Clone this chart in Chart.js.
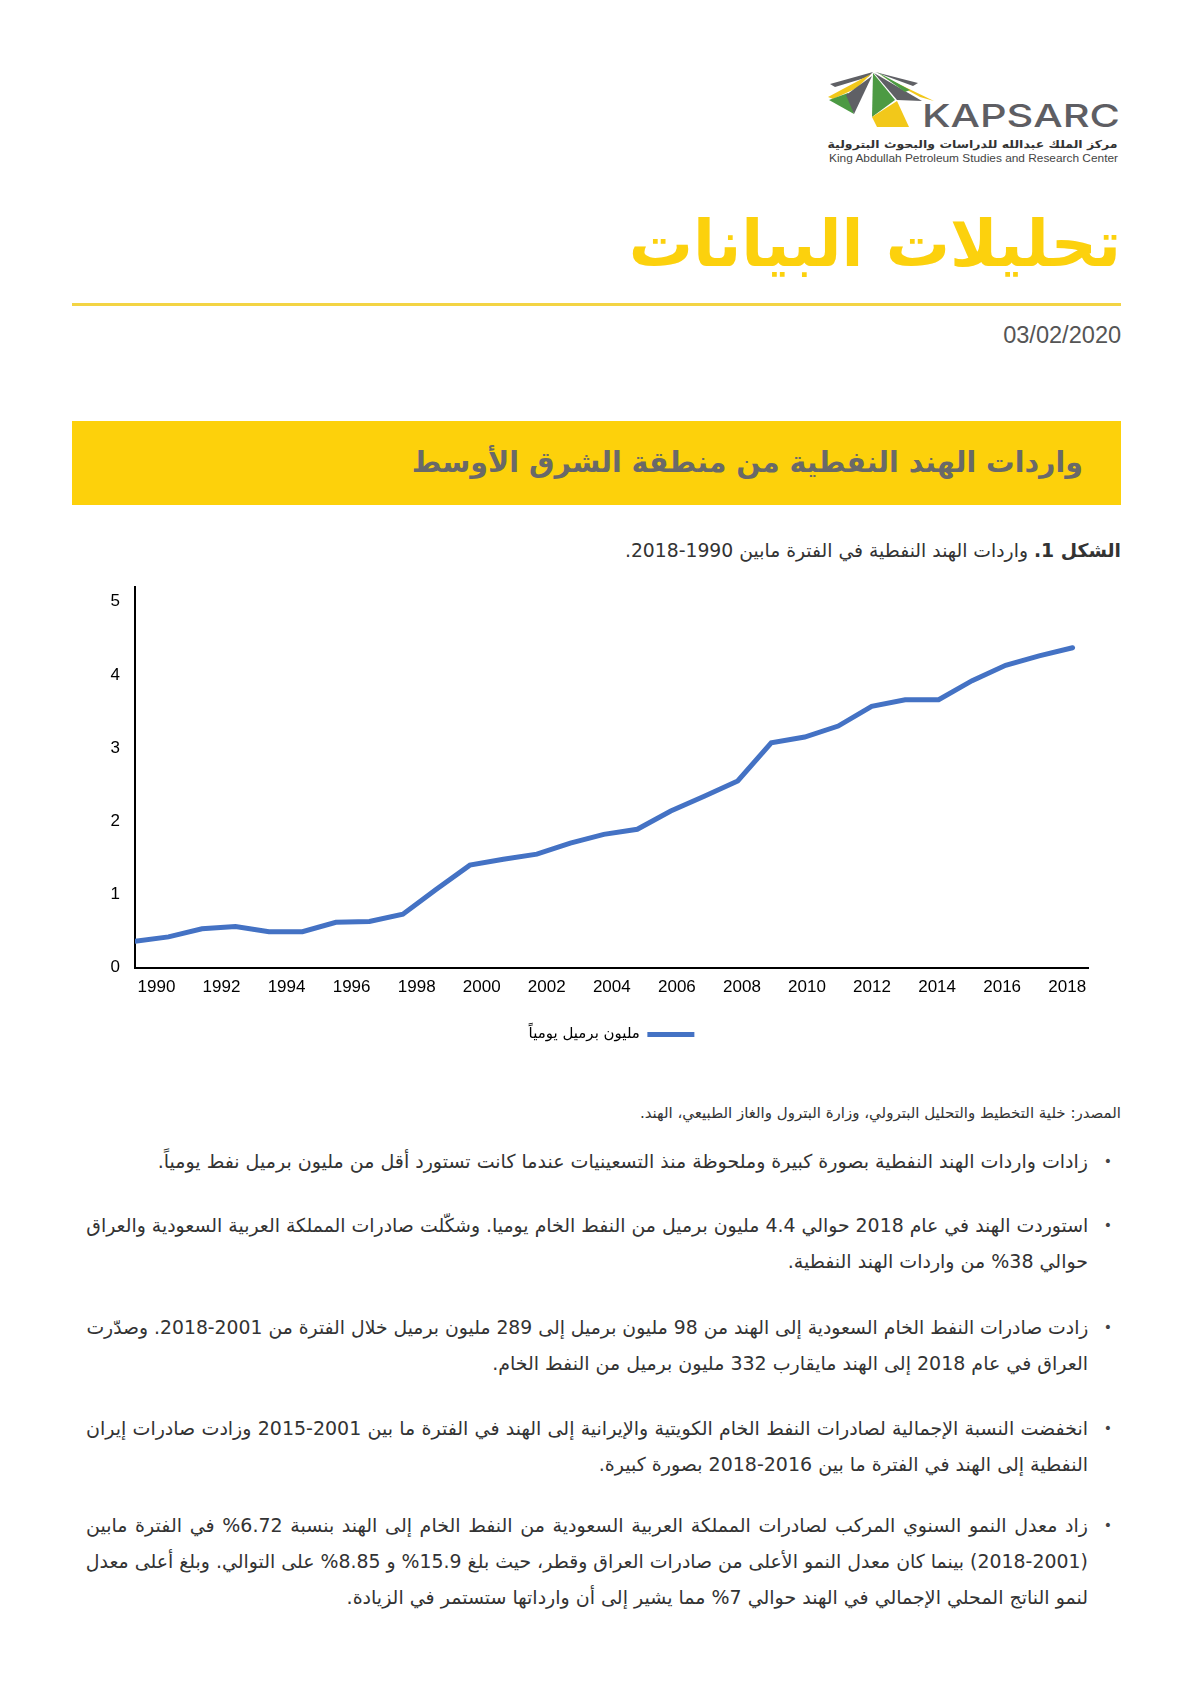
<!DOCTYPE html>
<html lang="ar">
<head>
<meta charset="utf-8">
<script src="https://cdn.jsdelivr.net/npm/chart.js@4"></script>
<style>
  html, body { margin:0; padding:0; background:#fff; }
  body { width:1191px; height:1684px; position:relative; overflow:hidden; font-family:"DejaVu Sans", sans-serif; }
  .abs { position:absolute; }
  .rtl { direction:rtl; }
  #title { right:70px; top:202px; font-size:64px; line-height:84px; font-weight:bold; color:#FCD10D; white-space:nowrap; }
  #rule { left:72px; top:303px; width:1049px; height:3px; background:#F3D444; }
  #date { right:70px; top:321px; font-family:"Liberation Sans Narrow","Liberation Sans",sans-serif; font-size:23px; line-height:28px; color:#555; white-space:nowrap; transform-origin:right center; }
  #banner { left:72px; top:421px; width:1049px; height:84px; background:#FDD10B; }
  #bannerText { right:38px; top:20px; font-size:28.5px; line-height:44px; font-weight:bold; color:#696969; white-space:nowrap; }
  #caption { right:70px; top:537px; font-size:18.8px; line-height:28px; color:#333; white-space:nowrap; }
  #chartBox { left:95px; top:560px; width:1040px; height:492px; }
  #source { right:70px; top:1101px; font-size:15px; line-height:24px; color:#333; white-space:nowrap; }
  .bullet { position:absolute; left:86px; width:1002px; direction:rtl; font-size:19px; line-height:36px; color:#333; }
  .bullet .dot { position:absolute; right:-24px; top:0; font-size:14px; color:#444; }
  .line { width:1002px; white-space:nowrap; text-align:right; }
  .line span { display:inline-block; white-space:nowrap; transform-origin:right center; }
  #logoAr { font-weight:bold; color:#333; }
</style>
</head>
<body>
<!-- logo -->
<svg class="abs" style="left:825px;top:65px" width="300" height="70" viewBox="0 0 300 70">
  <g transform="translate(-825,-65)">
    <polygon points="830,84 873,72 868,77 835,87" fill="#5f6065"/>
    <polygon points="828,97 871,74 857,88 833,99" fill="#F2C81A"/>
    <polygon points="829,100 848,93 854,114" fill="#4C9A43"/>
    <polygon points="846,95 872,76 854,114" fill="#5f6065"/>
    <polygon points="873,73 895,100 872,117" fill="#4C9A43"/>
    <polygon points="872,117 897,101 909,127 877,127" fill="#F2C81A"/>
    <polygon points="874,73 922,101 897,100" fill="#5f6065"/>
    <polygon points="880,75 934,101 920,97" fill="#F2C81A"/>
    <polygon points="875,72 918,83 913,86" fill="#5f6065"/>
    <polygon points="877,72 910,90 905,92" fill="#4C9A43"/>
  </g>
</svg>
<div class="abs fit" id="logoK" data-w="198" style="left:922px;top:98px;font-family:'Inter','DejaVu Sans',sans-serif;font-size:31px;line-height:36px;font-weight:500;color:#5e5e63;white-space:nowrap;transform-origin:left center;">KAPSARC</div>
<div class="abs fit rtl" id="logoAr" data-w="290" style="right:73px;top:137px;font-size:11px;line-height:16px;white-space:nowrap;transform-origin:right center;">مركز الملك عبدالله للدراسات والبحوث البترولية</div>
<div class="abs fit" id="logoEn" data-w="289" style="left:829px;top:151px;font-family:'Liberation Sans',sans-serif;font-size:11px;line-height:14px;color:#444;white-space:nowrap;transform-origin:left center;">King Abdullah Petroleum Studies and Research Center</div>

<div class="abs rtl" id="title">تحليلات البيانات</div>
<div class="abs" id="rule"></div>
<div class="abs fit" id="date" data-w="118">03/02/2020</div>

<div class="abs" id="banner"><div class="abs rtl" id="bannerText">واردات الهند النفطية من منطقة الشرق الأوسط</div></div>

<div class="abs rtl" id="caption"><b>الشكل 1.</b> واردات الهند النفطية في الفترة مابين 1990-2018.</div>

<div class="abs" id="chartBox"><canvas id="c"></canvas></div>

<div class="abs rtl" id="source">المصدر: خلية التخطيط والتحليل البترولي، وزارة البترول والغاز الطبيعي، الهند.</div>

<div class="bullet" style="top:1143px"><span class="dot">•</span>
  <div class="line"><span>زادات واردات الهند النفطية بصورة كبيرة وملحوظة منذ التسعينيات عندما كانت تستورد أقل من مليون برميل نفط يومياً.</span></div>
</div>
<div class="bullet" style="top:1207px"><span class="dot">•</span>
  <div class="line full"><span>استوردت الهند في عام 2018 حوالي 4.4 مليون برميل من النفط الخام يوميا. وشكّلت صادرات المملكة العربية السعودية والعراق</span></div>
  <div class="line"><span>حوالي 38% من واردات الهند النفطية.</span></div>
</div>
<div class="bullet" style="top:1309px"><span class="dot">•</span>
  <div class="line full"><span>زادت صادرات النفط الخام السعودية إلى الهند من 98 مليون برميل إلى 289 مليون برميل خلال الفترة من 2001-2018. وصدّرت</span></div>
  <div class="line"><span>العراق في عام 2018 إلى الهند مايقارب 332 مليون برميل من النفط الخام.</span></div>
</div>
<div class="bullet" style="top:1410px"><span class="dot">•</span>
  <div class="line full"><span>انخفضت النسبة الإجمالية لصادرات النفط الخام الكويتية والإيرانية إلى الهند في الفترة ما بين 2001-2015 وزادت صادرات إيران</span></div>
  <div class="line"><span>النفطية إلى الهند في الفترة ما بين 2016-2018 بصورة كبيرة.</span></div>
</div>
<div class="bullet" style="top:1507px"><span class="dot">•</span>
  <div class="line full"><span>زاد معدل النمو السنوي المركب لصادرات المملكة العربية السعودية من النفط الخام إلى الهند بنسبة 6.72% في الفترة مابين</span></div>
  <div class="line full"><span>(2018-2001) بينما كان معدل النمو الأعلى من صادرات العراق وقطر، حيث بلغ 15.9% و 8.85% على التوالي. وبلغ أعلى معدل</span></div>
  <div class="line"><span>لنمو الناتج المحلي الإجمالي في الهند حوالي 7% مما يشير إلى أن وارداتها ستستمر في الزيادة.</span></div>
</div>

<script>
// ---- data ----
const years = [1990,1991,1992,1993,1994,1995,1996,1997,1998,1999,2000,2001,2002,2003,2004,2005,2006,2007,2008,2009,2010,2011,2012,2013,2014,2015,2016,2017,2018];
const imports = [0.36,0.42,0.53,0.56,0.49,0.49,0.62,0.63,0.73,1.07,1.40,1.48,1.55,1.70,1.82,1.89,2.14,2.34,2.55,3.07,3.15,3.30,3.57,3.66,3.66,3.92,4.13,4.26,4.37];
const xTickLabels = ['1990','1992','1994','1996','1998','2000','2002','2004','2006','2008','2010','2012','2014','2016','2018'];
const yTickLabels = ['0','1','2','3','4','5'];
const seriesLabel = 'مليون برميل يومياً';

const points = years.map((y, i) => ({x: y, y: imports[i]}));

new Chart(document.getElementById('c'), {
  type: 'line',
  data: { datasets: [{
    label: seriesLabel,
    data: points,
    xAxisID: 'x',
    borderColor: '#4472C4',
    backgroundColor: '#4472C4',
    borderWidth: 5,
    borderCapStyle: 'round',
    borderJoinStyle: 'miter',
    pointRadius: 0,
    tension: 0,
    fill: false
  }]},
  options: {
    responsive: true,
    maintainAspectRatio: false,
    animation: false,
    layout: { padding: { top: 27, right: 47, left: 0, bottom: 0 } },
    plugins: {
      tooltip: { enabled: false },
      legend: {
        position: 'bottom',
        fullSize: false,
        rtl: true,
        textDirection: 'rtl',
        labels: {
          usePointStyle: true,
          pointStyle: 'line',
          pointStyleWidth: 47,
          boxHeight: 5,
          padding: 19,
          color: '#000',
          font: { family: 'DejaVu Sans', size: 15, weight: 'normal' }
        }
      }
    },
    scales: {
      x: {
        type: 'linear',
        position: 'bottom',
        weight: 0,
        min: 1990,
        max: 2018.46,
        grid: { display: false, drawTicks: false },
        border: { display: true, color: '#000', width: 2 },
        ticks: { display: false }
      },
      xl: {
        type: 'linear',
        axis: 'x',
        position: 'bottom',
        weight: 1,
        min: 1989.34,
        max: 2018.64,
        afterBuildTicks: s => { s.ticks = xTickLabels.map(v => ({value: Number(v)})); },
        grid: { display: false, drawTicks: false },
        border: { display: false },
        ticks: { autoSkip: false, maxRotation: 0, padding: 10, color: '#000',
                 font: { family: 'Liberation Sans', size: 17 },
                 callback: v => String(v) }
      },
      y: {
        min: 0,
        max: 5.2,
        afterBuildTicks: s => { s.ticks = yTickLabels.map(v => ({value: Number(v)})); },
        afterFit: s => { s.width = 40; },
        grid: { display: false, drawTicks: false },
        border: { display: true, color: '#000', width: 2 },
        ticks: { padding: 15, color: '#000', font: { family: 'Liberation Sans', size: 17 },
                 callback: v => String(v) }
      }
    }
  }
});

function fitAll() {
  document.querySelectorAll('.fit').forEach(el => {
    const target = Number(el.dataset.w);
    const w = el.getBoundingClientRect().width;
    if (w > 0) el.style.transform = 'scaleX(' + (target / w) + ')';
  });
  document.querySelectorAll('.line').forEach(div => {
    const s = div.firstElementChild;
    const T = div.clientWidth;
    const w = s.getBoundingClientRect().width;
    if (w > T) {
      s.style.transform = 'scaleX(' + (T / w) + ')';
    } else if (div.classList.contains('full')) {
      s.style.whiteSpace = 'normal';
      s.style.width = T + 'px';
      s.style.textAlign = 'justify';
      s.style.textAlignLast = 'justify';
    }
  });
}
if (document.fonts && document.fonts.ready) document.fonts.ready.then(fitAll); else fitAll();
</script>
</body>
</html>
